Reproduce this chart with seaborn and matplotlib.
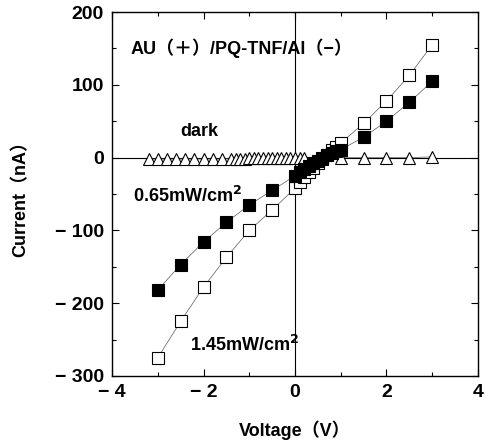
import matplotlib
matplotlib.use("Agg")
import matplotlib.pyplot as plt
import seaborn as sns
from matplotlib.ticker import MultipleLocator, FuncFormatter

# === Data ===
volt_sq = [-3.0, -2.5, -2.0, -1.5, -1.0, -0.5, 0.0, 0.1, 0.2, 0.3, 0.4, 0.5,
           0.6, 0.7, 0.8, 0.9, 1.0, 1.5, 2.0, 2.5, 3.0]
cur_145 = [-275, -225, -178, -137, -100, -72, -42, -33, -26, -20, -14, -8,
           -2, 4, 10, 15, 20, 47, 78, 113, 155]
cur_065 = [-182, -147, -116, -89, -65, -45, -25, -20, -16, -12, -8, -4,
           0, 3, 6, 9, 11, 28, 50, 76, 105]

volt_dark = [-3.2, -3.0, -2.8, -2.6, -2.4, -2.2, -2.0, -1.8, -1.6, -1.4,
             -1.3, -1.2, -1.1, -1.0, -0.9, -0.8, -0.7, -0.6, -0.5, -0.4,
             -0.3, -0.2, -0.1, 0.0, 0.1, 0.2, 0.6, 1.0, 1.5, 2.0, 2.5, 3.0]
cur_dark = [-2, -2, -2, -2, -2, -2, -2, -2, -2, -1.5,
            -1.5, -1.5, -1.5, -1, -1, -1, -1, -1, -1, -1,
            -1, -1, -1, -1, 0, 0, 0, 0, 0, 0, 0, 1]

# === Style ===
sns.set_style("ticks")
plt.rcParams['font.family'] = ['Liberation Sans', 'Noto Sans CJK JP']
plt.rcParams['font.weight'] = 'bold'
plt.rcParams['text.color'] = 'black'
plt.rcParams['axes.labelcolor'] = 'black'

fig = plt.figure(figsize=(4.86, 4.46), dpi=100)
ax = fig.add_axes([0.2305, 0.157, 0.753, 0.816])

ax.axhline(0, color='black', lw=0.8, zorder=1)
ax.axvline(0, color='black', lw=0.8, zorder=1)

sns.lineplot(x=volt_dark, y=cur_dark, sort=False, ax=ax, color='0.35', lw=0.5,
             marker='^', markersize=8, markerfacecolor='white',
             markeredgecolor='black', markeredgewidth=0.8, zorder=2)
sns.lineplot(x=volt_sq, y=cur_145, sort=False, ax=ax, color='0.35', lw=0.5,
             marker='s', markersize=8, markerfacecolor='white',
             markeredgecolor='black', markeredgewidth=0.8, zorder=3)
sns.lineplot(x=volt_sq, y=cur_065, sort=False, ax=ax, color='0.35', lw=0.5,
             marker='s', markersize=8, markerfacecolor='black',
             markeredgecolor='black', markeredgewidth=0.8, zorder=4)

ax.set_xlim(-4, 4)
ax.set_ylim(-300, 200)
ax.xaxis.set_major_locator(MultipleLocator(2))
ax.xaxis.set_minor_locator(MultipleLocator(1))
ax.yaxis.set_major_locator(MultipleLocator(100))
ax.yaxis.set_minor_locator(MultipleLocator(50))


def fmt(v, pos):
    v = int(round(v))
    return f"\u2212 {abs(v)}" if v < 0 else f"{v}"


ax.xaxis.set_major_formatter(FuncFormatter(fmt))
ax.yaxis.set_major_formatter(FuncFormatter(fmt))
ax.tick_params(which='both', direction='in', top=True, right=True,
               labelsize=14, width=0.8, colors='black')
ax.tick_params(which='major', length=5, pad=6)
ax.tick_params(which='minor', length=3)
for s in ax.spines.values():
    s.set_linewidth(1.0)
    s.set_color('black')

ax.set_xlabel("Voltage\uff08V\uff09", fontsize=13, fontweight='bold', labelpad=14)
ax.set_ylabel("Current\uff08nA\uff09", fontsize=13, fontweight='bold', labelpad=18)

ax.text(-3.6, 150, "AU\uff08\uff0b\uff09/PQ-TNF/Al\uff08\u2212\uff09", fontsize=13,
        fontweight='bold', va='center')
ax.text(-2.1, 36, "dark", fontsize=13, fontweight='bold', ha='center', va='center')
ax.text(-3.55, -52, "0.65mW/cm$^2$", fontsize=13, fontweight='bold', va='center')
ax.text(-2.3, -257, "1.45mW/cm$^2$", fontsize=13, fontweight='bold', va='center')

plt.savefig("out.png", dpi=100)
